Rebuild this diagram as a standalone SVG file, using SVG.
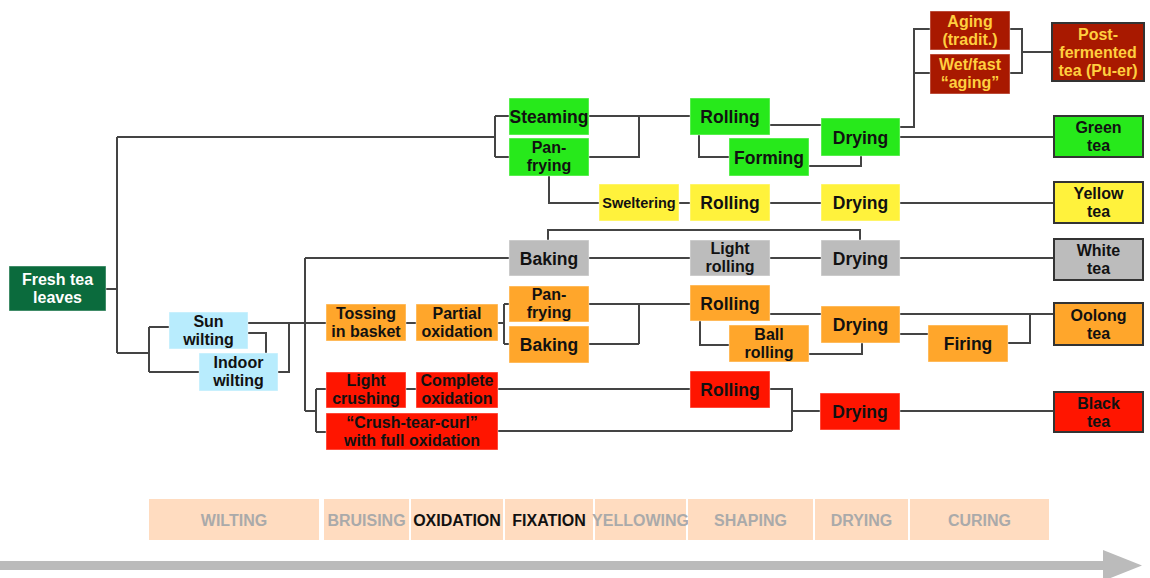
<svg xmlns="http://www.w3.org/2000/svg" width="1150" height="578" viewBox="0 0 1150 578">
<style>
text{font-family:"Liberation Sans",Arial,sans-serif;font-weight:bold;font-size:17.5px;text-anchor:middle;fill:#111}
text.ml{font-size:16px}
.box{stroke:#ffffff;stroke-opacity:0.45;stroke-width:1}
.end{stroke:#333;stroke-width:2}
.fresh{fill:#0b6b3d}
.blue{fill:#b8ecfd}
.green{fill:#27e91b}
.yellow{fill:#fff23c}
.gray{fill:#bcbcbc}
.orange{fill:#ffa62b}
.red{fill:#ff1500}
.dred{fill:#a81900}
text.w{fill:#ffffff}
text.gold{fill:#ffcf3f}
text.sm{font-size:14.5px}
#connectors path{fill:none;stroke:#444;stroke-width:2}
.phase{fill:#ffdcc0}
text.ph{font-size:16px;fill:#aaaaaa}
text.phb{font-size:16px;fill:#111}
</style>
<g id="connectors">
<path d="M106,289 H117 M117,137 V353 M117,137 H495 M117,353 H149"/>
<path d="M149,327 V372 M149,327 H169 M149,372 H199"/>
<path d="M248,323 H326 M248,333 H266 V353 M278,372 H289 V323"/>
<path d="M305,258 V411 M305,258 H509 M305,411 H316 M316,389 V432 M316,389 H326 M316,432 H326"/>
<path d="M406,323 H416 M498,323 H504 M504,304 V344 M504,304 H509 M504,344 H509"/>
<path d="M589,304 H690 M639,304 V344 M589,344 H639"/>
<path d="M406,389 H416 M498,389 H690 M498,431 H792 M770,389 H792 V431 M792,411 H820 M900,411 H1054"/>
<path d="M589,258 H690 M770,258 H821 M900,258 H1054 M548,240 V230 H860 V240"/>
<path d="M770,314 H821 M700,321 V345 H729 M809,354 H862 V343 M900,314 H1054 M900,334 H928 M1008,343 H1030 V314"/>
<path d="M495,116 V157 M495,116 H509 M495,157 H509 M589,116 H690 M589,157 H639 V116 M770,125 H821 M699,135 V157 H729 M809,166 H861 V156"/>
<path d="M900,127 H914 V29 H930 M914,73 H930 M900,137 H1054 M1010,29 H1022 V73 H1010 M1022,52 H1052"/>
<path d="M549,176 V203 H599 M679,203 H690 M770,203 H821 M900,203 H1054"/>
</g>
<g id="n_fresh"><rect class="box fresh" x="9" y="266" width="97" height="45"/><text class="w ml" x="57.5" y="285">Fresh tea</text><text class="w ml" x="57.5" y="303">leaves</text></g>
<g id="n_sun"><rect class="box blue" x="169" y="312" width="79" height="37"/><text class="ml" x="208.5" y="326.5">Sun</text><text class="ml" x="208.5" y="344.5">wilting</text></g>
<g id="n_indoor"><rect class="box blue" x="199" y="353" width="79" height="38"/><text class="ml" x="238.5" y="368">Indoor</text><text class="ml" x="238.5" y="386">wilting</text></g>
<g id="n_steam"><rect class="box green" x="509" y="98" width="80" height="37"/><text x="549" y="123">Steaming</text></g>
<g id="n_panG"><rect class="box green" x="509" y="138" width="80" height="38"/><text class="ml" x="549" y="152.5">Pan-</text><text class="ml" x="549" y="170.5">frying</text></g>
<g id="n_rollG"><rect class="box green" x="690" y="98" width="80" height="37"/><text x="730" y="123">Rolling</text></g>
<g id="n_form"><rect class="box green" x="729" y="138" width="80" height="38"/><text x="769" y="163.5">Forming</text></g>
<g id="n_dryG"><rect class="box green" x="821" y="118" width="79" height="38"/><text x="860.5" y="143.5">Drying</text></g>
<g id="n_aging"><rect class="box dred" x="930" y="11" width="80" height="39"/><text class="gold ml" x="970" y="27">Aging</text><text class="gold ml" x="970" y="45">(tradit.)</text></g>
<g id="n_wet"><rect class="box dred" x="930" y="54" width="80" height="40"/><text class="gold ml" x="970" y="70">Wet/fast</text><text class="gold ml" x="970" y="88">“aging”</text></g>
<g id="n_post"><rect class="end dred" x="1052" y="23" width="92" height="58"/><text class="gold ml" x="1098" y="40">Post-</text><text class="gold ml" x="1098" y="58">fermented</text><text class="gold ml" x="1098" y="76">tea (Pu-er)</text></g>
<g id="n_green"><rect class="end green" x="1054" y="116" width="89" height="41"/><text class="ml" x="1098.5" y="133">Green</text><text class="ml" x="1098.5" y="151">tea</text></g>
<g id="n_swelt"><rect class="box yellow" x="599" y="184" width="80" height="37"/><text class="sm" x="639" y="207.5">Sweltering</text></g>
<g id="n_rollY"><rect class="box yellow" x="690" y="184" width="80" height="37"/><text x="730" y="209">Rolling</text></g>
<g id="n_dryY"><rect class="box yellow" x="821" y="184" width="79" height="37"/><text x="860.5" y="209">Drying</text></g>
<g id="n_yellow"><rect class="end yellow" x="1054" y="182" width="89" height="41"/><text class="ml" x="1098.5" y="199">Yellow</text><text class="ml" x="1098.5" y="217">tea</text></g>
<g id="n_bakeW"><rect class="box gray" x="509" y="240" width="80" height="36"/><text x="549" y="264.5">Baking</text></g>
<g id="n_lroll"><rect class="box gray" x="690" y="240" width="80" height="36"/><text class="ml" x="730" y="254">Light</text><text class="ml" x="730" y="272">rolling</text></g>
<g id="n_dryW"><rect class="box gray" x="821" y="240" width="79" height="36"/><text x="860.5" y="264.5">Drying</text></g>
<g id="n_white"><rect class="end gray" x="1054" y="239" width="89" height="41"/><text class="ml" x="1098.5" y="256">White</text><text class="ml" x="1098.5" y="274">tea</text></g>
<g id="n_toss"><rect class="box orange" x="326" y="304" width="80" height="37"/><text class="ml" x="366" y="318.5">Tossing</text><text class="ml" x="366" y="336.5">in basket</text></g>
<g id="n_partial"><rect class="box orange" x="416" y="304" width="82" height="37"/><text class="ml" x="457" y="318.5">Partial</text><text class="ml" x="457" y="336.5">oxidation</text></g>
<g id="n_panO"><rect class="box orange" x="509" y="286" width="80" height="36"/><text class="ml" x="549" y="300">Pan-</text><text class="ml" x="549" y="318">frying</text></g>
<g id="n_bakeO"><rect class="box orange" x="509" y="326" width="80" height="37"/><text x="549" y="351">Baking</text></g>
<g id="n_rollO"><rect class="box orange" x="690" y="285" width="80" height="36"/><text x="730" y="309.5">Rolling</text></g>
<g id="n_ball"><rect class="box orange" x="729" y="325" width="80" height="37"/><text class="ml" x="769" y="339.5">Ball</text><text class="ml" x="769" y="357.5">rolling</text></g>
<g id="n_dryO"><rect class="box orange" x="821" y="306" width="79" height="37"/><text x="860.5" y="331">Drying</text></g>
<g id="n_fire"><rect class="box orange" x="928" y="325" width="80" height="37"/><text x="968" y="350">Firing</text></g>
<g id="n_oolong"><rect class="end orange" x="1054" y="303" width="89" height="42"/><text class="ml" x="1098.5" y="320.5">Oolong</text><text class="ml" x="1098.5" y="338.5">tea</text></g>
<g id="n_crush"><rect class="box red" x="326" y="372" width="80" height="36"/><text class="ml" x="366" y="386">Light</text><text class="ml" x="366" y="404">crushing</text></g>
<g id="n_complete"><rect class="box red" x="416" y="372" width="82" height="36"/><text class="ml" x="457" y="386">Complete</text><text class="ml" x="457" y="404">oxidation</text></g>
<g id="n_ctc"><rect class="box red" x="326" y="413" width="172" height="37"/><text class="ml" x="412" y="427.5">“Crush-tear-curl”</text><text class="ml" x="412" y="445.5">with full oxidation</text></g>
<g id="n_rollR"><rect class="box red" x="690" y="371" width="80" height="37"/><text x="730" y="396">Rolling</text></g>
<g id="n_dryR"><rect class="box red" x="820" y="393" width="80" height="37"/><text x="860" y="418">Drying</text></g>
<g id="n_black"><rect class="end red" x="1054" y="392" width="89" height="40"/><text class="ml" x="1098.5" y="409">Black</text><text class="ml" x="1098.5" y="427">tea</text></g>
<g id="timeline">
<rect class="phase" x="149" y="499" width="170" height="41"/><text class="ph" x="234" y="526">WILTING</text>
<rect class="phase" x="324" y="499" width="85" height="41"/><text class="ph" x="366.5" y="526">BRUISING</text>
<rect class="phase" x="411" y="499" width="92" height="41"/><text class="phb" x="457" y="526">OXIDATION</text>
<rect class="phase" x="505" y="499" width="88" height="41"/><text class="phb" x="549" y="526">FIXATION</text>
<rect class="phase" x="595" y="499" width="91" height="41"/><text class="ph" x="640.5" y="526">YELLOWING</text>
<rect class="phase" x="688" y="499" width="125" height="41"/><text class="ph" x="750.5" y="526">SHAPING</text>
<rect class="phase" x="815" y="499" width="93" height="41"/><text class="ph" x="861.5" y="526">DRYING</text>
<rect class="phase" x="910" y="499" width="139" height="41"/><text class="ph" x="979.5" y="526">CURING</text>
<rect x="0" y="561" width="1106" height="9" fill="#bbbbbb"/>
<polygon points="1103,550 1142,565.5 1103,581" fill="#bbbbbb"/>
</g>
</svg>
